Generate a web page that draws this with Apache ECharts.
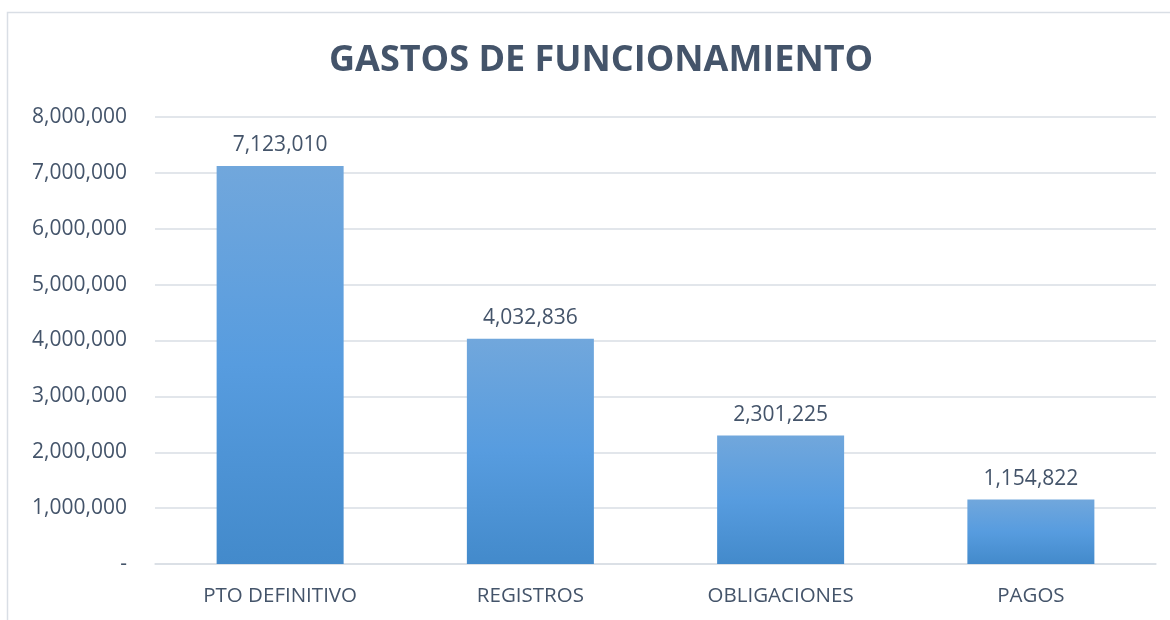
<!DOCTYPE html>
<html>
<head>
<meta charset="utf-8">
<script src="https://cdn.jsdelivr.net/npm/echarts@6/dist/echarts.min.js"></script>
<style>
  html, body { margin: 0; padding: 0; background: #fff; }
  #chart { width: 1170px; height: 620px; }
</style>
</head>
<body>
<div id="chart"></div>
<script>
// datos del grafico
const categorias = ["PTO DEFINITIVO", "REGISTROS", "OBLIGACIONES", "PAGOS"];
const valores = [7123010, 4032836, 2301225, 1154822];
const titulo = "GASTOS DE FUNCIONAMIENTO";

const fmt = (v) => v === 0 ? "-" : v.toLocaleString("en-US");
const textColor = "#44546A";
const font = "Open Sans";

const chart = echarts.init(document.getElementById("chart"));
chart.setOption({
  animation: false,
  graphic: [
    {
      type: "rect",
      shape: { x: 7.5, y: 12.5, width: 1175, height: 620 },
      style: { fill: "none", stroke: "#D9DEE5", lineWidth: 1.5 },
      silent: true
    }
  ],
  title: {
    text: titulo,
    left: 324,
    top: 38,
    textStyle: { color: textColor, fontFamily: font, fontWeight: "bold", fontSize: 36 }
  },
  grid: { left: 155, right: 14, top: 117, bottom: 56 },
  xAxis: {
    type: "category",
    data: categorias,
    axisLine: { show: true, lineStyle: { color: "#D9DEE5", width: 1.5 } },
    axisTick: { show: false },
    axisLabel: { color: textColor, fontFamily: font, fontSize: 20.5, margin: 22 }
  },
  yAxis: {
    type: "value",
    min: 0,
    max: 8000000,
    interval: 1000000,
    axisLine: { show: false },
    axisTick: { show: false },
    splitLine: { lineStyle: { color: "#D9DEE5", width: 1.5 } },
    axisLabel: { color: textColor, fontFamily: font, fontSize: 21, margin: 28, formatter: fmt }
  },
  series: [
    {
      type: "bar",
      data: valores,
      barWidth: 127,
      itemStyle: {
        color: new echarts.graphic.LinearGradient(0, 0, 0, 1, [
          { offset: 0, color: "#71A7DC" },
          { offset: 0.5, color: "#579CDF" },
          { offset: 1, color: "#438ACB" }
        ])
      },
      label: {
        show: true,
        position: "top",
        distance: 10,
        color: textColor,
        fontFamily: font,
        fontSize: 21,
        formatter: (p) => fmt(p.value)
      }
    }
  ]
});
</script>
</body>
</html>
